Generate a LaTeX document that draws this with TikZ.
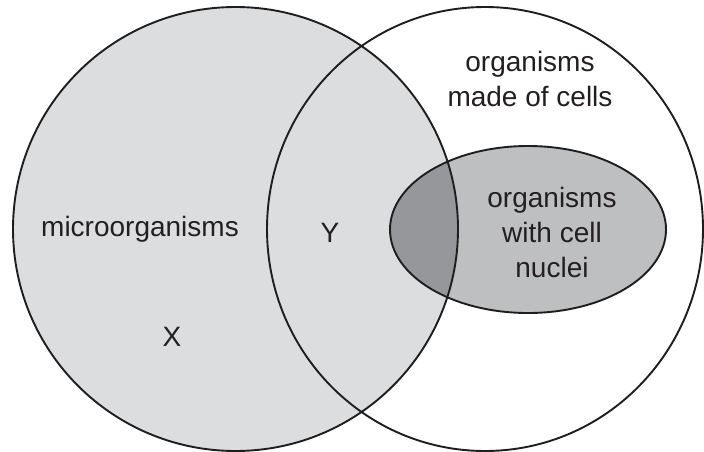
\documentclass[tikz,border=0pt]{standalone}
\usepackage{fontspec}
\setmainfont{Liberation Sans}
\definecolor{lightfill}{RGB}{220,221,223}
\definecolor{nucfill}{RGB}{190,191,193}
\definecolor{overfill}{RGB}{150,151,154}
\definecolor{inkline}{RGB}{30,30,30}
\definecolor{inktext}{RGB}{35,31,32}
\begin{document}
\begin{tikzpicture}[x=1pt,y=-1pt,
  outline/.style={draw=inkline,line width=1.9pt},
  lbl/.style={text=inktext,font=\fontsize{28}{35}\selectfont,align=center,inner sep=0pt}]
\useasboundingbox (0,0) rectangle (704,452);
\fill[white] (0,0) rectangle (704,452);
% fills
\fill[lightfill] (235.5,229) ellipse [x radius=222.5, y radius=222];
\fill[nucfill] (528,229.5) ellipse [x radius=138, y radius=83.5];
\begin{scope}
  \clip (235.5,229) ellipse [x radius=222.5, y radius=222];
  \fill[overfill] (528,229.5) ellipse [x radius=138, y radius=83.5];
\end{scope}
% outlines
\draw[outline] (235.5,229) ellipse [x radius=222.5, y radius=222];
\draw[outline] (485,229) ellipse [x radius=218, y radius=222];
\draw[outline] (528,229.5) ellipse [x radius=138, y radius=83.5];
% labels
\node[lbl] (cells) at (530,79) {organisms\\made of cells};
\node[lbl] (micro) at (140,229) {microorganisms};
\node[lbl] (y) at (330,233) {Y};
\node[lbl] (x) at (172,337) {X};
\node[lbl] (nuclei) at (552,232) {organisms\\with cell\\nuclei};
\end{tikzpicture}
\end{document}
